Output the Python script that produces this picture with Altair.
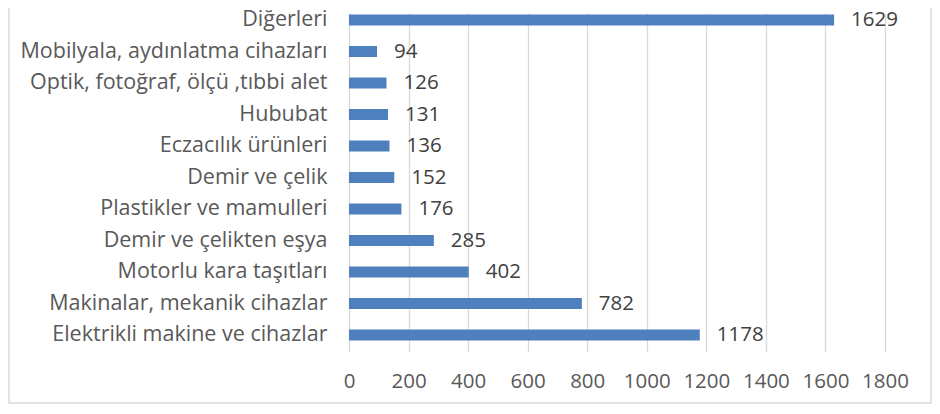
import altair as alt
import pandas as pd

categories = [
    "Diğerleri",
    "Mobilyala, aydınlatma cihazları",
    "Optik, fotoğraf, ölçü ,tıbbi alet",
    "Hububat",
    "Eczacılık ürünleri",
    "Demir ve çelik",
    "Plastikler ve mamulleri",
    "Demir  ve çelikten eşya",
    "Motorlu kara taşıtları",
    "Makinalar, mekanik cihazlar",
    "Elektrikli makine ve cihazlar",
]
values = [1629, 94, 126, 131, 136, 152, 176, 285, 402, 782, 1178]
x_ticks = [0, 200, 400, 600, 800, 1000, 1200, 1400, 1600, 1800]

df = pd.DataFrame({"kategori": categories, "deger": values})

FONT = "Open Sans"
FS = 20.5
y_enc = alt.Y(
    "kategori:N",
    sort=categories,
    title=None,
    scale=alt.Scale(paddingInner=0.65, paddingOuter=0.206, align=0.115),
    axis=alt.Axis(
        domain=False, ticks=False, labelFont=FONT, labelFontSize=21.5,
        labelColor="#595959", labelPadding=22, labelLimit=500, grid=False,
    ),
)
x_enc = alt.X(
    "deger:Q",
    title=None,
    scale=alt.Scale(domain=[0, 1800], nice=False),
    axis=alt.Axis(
        values=x_ticks, format="d", domain=False, ticks=False, grid=True,
        gridColor="#d9d9d9", gridWidth=1.3, labelFont=FONT, labelFontSize=FS,
        labelColor="#595959", labelPadding=19, labelFlush=False,
    ),
)

base = alt.Chart(df)
bars = base.mark_bar(color="#4e80bd").encode(x=x_enc, y=y_enc)
labels = base.mark_text(
    align="left", baseline="middle", dx=17, font=FONT, fontSize=FS, color="#404040"
).encode(x="deger:Q", y=alt.Y("kategori:N", sort=categories), text=alt.Text("deger:Q", format="d"))

border = alt.Chart(pd.DataFrame({"b": [1]})).mark_rect(
    filled=False, stroke="#d9d9d9", strokeWidth=1.5, clip=False
).encode(
    x=alt.value(-340), x2=alt.value(582), y=alt.value(-20), y2=alt.value(390)
)

chart = alt.layer(bars, labels, border).properties(
    width=536,
    height=339,
    autosize=alt.AutoSizeParams(type="none"),
    padding={"left": 341, "top": 5, "right": 47, "bottom": 54},
).configure_view(stroke=None)

chart.save("out.html", embed_options={"renderer": "svg", "actions": False})
